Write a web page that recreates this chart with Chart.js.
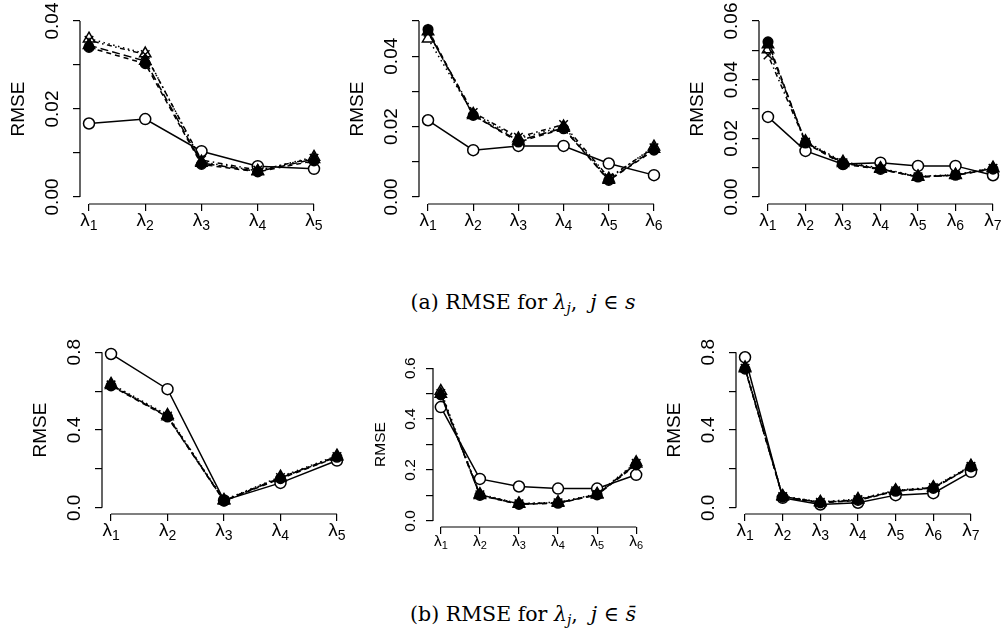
<!DOCTYPE html>
<html>
<head>
<meta charset="utf-8">
<script src="https://cdn.jsdelivr.net/npm/chart.js@4/dist/chart.umd.min.js"></script>
<style>
  body { margin: 0; background: #fff; width: 1006px; height: 635px; position: relative; overflow: hidden; }
  canvas { position: absolute; }
  .cap { position: absolute; left: 0; width: 1046px; text-align: center; font-family: "DejaVu Serif", "Liberation Serif", serif; font-size: 20.5px; color: #000; white-space: nowrap; }
  .cap i { font-style: italic; }
  .cap sub { font-size: 14px; vertical-align: -4px; line-height: 0; }
</style>
</head>
<body>
<canvas id="a1"></canvas>
<canvas id="a2"></canvas>
<canvas id="a3"></canvas>
<canvas id="b1"></canvas>
<canvas id="b2"></canvas>
<canvas id="b3"></canvas>
<div class="cap" style="top:290px">(a) RMSE for <i>λ<sub>j</sub></i>, &nbsp;<i>j</i> ∈ <i>s</i></div>
<div class="cap" style="top:602px">(b) RMSE for <i>λ<sub>j</sub></i>, &nbsp;<i>j</i> ∈ <i>s̄</i></div>
<script>
// subscripts of the lambda categories
const cats5 = ['1', '2', '3', '4', '5'];
const cats6 = ['1', '2', '3', '4', '5', '6'];
const cats7 = ['1', '2', '3', '4', '5', '6', '7'];

// y axis ticks and labelled ticks
const ticksA1 = [0, 0.01, 0.02, 0.03, 0.04];
const ticksA2 = [0, 0.01, 0.02, 0.03, 0.04, 0.05];
const ticksA3 = [0, 0.01, 0.02, 0.03, 0.04, 0.05, 0.06];
const labelsA12 = [0, 0.02, 0.04];
const labelsA3 = [0, 0.02, 0.04, 0.06];
const ticksB13 = [0, 0.2, 0.4, 0.6, 0.8];
const labelsB13 = [0, 0.4, 0.8];
const ticksB2 = [0, 0.1, 0.2, 0.3, 0.4, 0.5, 0.6];
const labelsB2 = [0, 0.2, 0.4, 0.6];

// (a) lambda_j, j in s
const a1Circle  = [0.0167, 0.0177, 0.0104, 0.0070, 0.0064];
const a1Dot     = [0.0340, 0.0303, 0.0074, 0.0057, 0.0082];
const a1Tri     = [0.0360, 0.0326, 0.0080, 0.0059, 0.0091];
const a1Cross   = [0.0356, 0.0324, 0.0084, 0.0061, 0.0088];
const a1FillTri = [0.0345, 0.0309, 0.0077, 0.0058, 0.0086];

const a2Circle  = [0.0218, 0.0133, 0.0145, 0.0145, 0.0095, 0.0062];
const a2Dot     = [0.0476, 0.0232, 0.0156, 0.0194, 0.0047, 0.0133];
const a2Tri     = [0.0450, 0.0236, 0.0166, 0.0200, 0.0052, 0.0143];
const a2Cross   = [0.0468, 0.0240, 0.0170, 0.0206, 0.0055, 0.0140];
const a2FillTri = [0.0470, 0.0232, 0.0160, 0.0196, 0.0048, 0.0136];

const a3Circle  = [0.0273, 0.0157, 0.0112, 0.0117, 0.0106, 0.0106, 0.0074];
const a3Dot     = [0.0529, 0.0184, 0.0112, 0.0094, 0.0068, 0.0074, 0.0095];
const a3Tri     = [0.0503, 0.0190, 0.0120, 0.0098, 0.0070, 0.0076, 0.0100];
const a3Cross   = [0.0484, 0.0187, 0.0117, 0.0096, 0.0069, 0.0075, 0.0098];
const a3FillTri = [0.0520, 0.0186, 0.0115, 0.0095, 0.0068, 0.0074, 0.0097];

// (b) lambda_j, j in s-bar
const b1Circle  = [0.791, 0.610, 0.038, 0.128, 0.243];
const b1Dot     = [0.627, 0.467, 0.035, 0.150, 0.260];
const b1Tri     = [0.637, 0.477, 0.040, 0.160, 0.268];
const b1Cross   = [0.632, 0.472, 0.037, 0.156, 0.264];
const b1FillTri = [0.630, 0.470, 0.036, 0.154, 0.262];

const b2Circle  = [0.447, 0.165, 0.135, 0.127, 0.127, 0.181];
const b2Dot     = [0.495, 0.100, 0.065, 0.069, 0.102, 0.220];
const b2Tri     = [0.510, 0.105, 0.068, 0.073, 0.106, 0.230];
const b2Cross   = [0.500, 0.103, 0.067, 0.071, 0.104, 0.226];
const b2FillTri = [0.498, 0.101, 0.066, 0.070, 0.103, 0.224];

const b3Circle  = [0.774, 0.051, 0.017, 0.026, 0.065, 0.075, 0.185];
const b3Dot     = [0.713, 0.055, 0.025, 0.038, 0.085, 0.100, 0.210];
const b3Tri     = [0.722, 0.060, 0.030, 0.045, 0.090, 0.106, 0.216];
const b3Cross   = [0.718, 0.058, 0.028, 0.042, 0.088, 0.104, 0.213];
const b3FillTri = [0.716, 0.057, 0.027, 0.040, 0.087, 0.102, 0.212];

// marker / line type per series (R pch 1, 16, 2, 4, 17)
const seriesStyles = [
  { pointStyle: 'circle',   pointRadius: 5.5, pointBackgroundColor: '#fff', borderDash: [],            order: 5 },
  { pointStyle: 'circle',   pointRadius: 4.8, pointBackgroundColor: '#000', borderDash: [5, 4],        order: 4 },
  { pointStyle: 'triangle', pointRadius: 6.5, pointBackgroundColor: '#fff', borderDash: [1.5, 3.5],    order: 3 },
  { pointStyle: 'crossRot', pointRadius: 6,   pointBackgroundColor: '#000', borderDash: [1.5, 3.5, 5, 3.5], order: 2 },
  { pointStyle: 'triangle', pointRadius: 6.5, pointBackgroundColor: '#000', borderDash: [8, 4],        order: 1 }
];

const PAD_L = 70, PAD_T = 12, PAD_R = 14, PAD_B = 45;

function makePanel(id, box, cats, series, yTicks, yLabels, digits, fs, gaps) {
  const n = cats.length;
  const ext = 0.04 * (n - 1);
  const yTop = yTicks[yTicks.length - 1];
  const canvas = document.getElementById(id);
  canvas.width = box.w + PAD_L + PAD_R;
  canvas.height = box.h + PAD_T + PAD_B;
  canvas.style.left = (box.x - PAD_L) + 'px';
  canvas.style.top = (box.y - PAD_T) + 'px';

  const sans = '"Liberation Sans", Arial, sans-serif';
  const rAxes = {
    id: 'rAxes',
    afterDraw(chart) {
      const { ctx, chartArea: a, scales: { x, y } } = chart;
      ctx.save();
      ctx.strokeStyle = '#000';
      ctx.lineWidth = 1.2;
      ctx.beginPath();
      ctx.moveTo(a.left, y.getPixelForValue(yTicks[0]));
      ctx.lineTo(a.left, y.getPixelForValue(yTop));
      ctx.moveTo(x.getPixelForValue(1), a.bottom);
      ctx.lineTo(x.getPixelForValue(n), a.bottom);
      ctx.stroke();

      ctx.fillStyle = '#000';
      ctx.textAlign = 'center';
      ctx.textBaseline = 'alphabetic';
      ctx.font = fs + 'px ' + sans;
      yLabels.forEach(v => {
        ctx.save();
        ctx.translate(a.left - gaps.tick, y.getPixelForValue(v));
        ctx.rotate(-Math.PI / 2);
        ctx.fillText(v.toFixed(digits), 0, 0);
        ctx.restore();
      });
      ctx.save();
      ctx.translate(a.left - gaps.title, (a.top + a.bottom) / 2);
      ctx.rotate(-Math.PI / 2);
      ctx.fillText('RMSE', 0, 0);
      ctx.restore();

      const subFs = Math.round(fs * 0.72);
      ctx.textAlign = 'left';
      cats.forEach((c, i) => {
        const px = x.getPixelForValue(i + 1);
        const base = a.bottom + gaps.x;
        ctx.font = fs + 'px ' + sans;
        const w1 = ctx.measureText('λ').width;
        ctx.font = subFs + 'px ' + sans;
        const w2 = ctx.measureText(c).width;
        const x0 = px - (w1 + w2) / 2;
        ctx.font = fs + 'px ' + sans;
        ctx.fillText('λ', x0, base);
        ctx.font = subFs + 'px ' + sans;
        ctx.fillText(c, x0 + w1, base + fs * 0.22);
      });
      ctx.restore();
    }
  };

  new Chart(canvas, {
    type: 'line',
    data: {
      datasets: seriesStyles.map((st, k) => Object.assign({
        data: series[k].map((v, i) => ({ x: i + 1, y: v })),
        borderColor: '#000',
        borderWidth: 1.5,
        pointBorderColor: '#000',
        pointBorderWidth: 1.5,
        fill: false,
        tension: 0,
        clip: false
      }, st))
    },
    options: {
      responsive: false,
      animation: false,
      events: [],
      layout: { padding: { left: 0, top: PAD_T, right: PAD_R, bottom: 0 } },
      plugins: { legend: { display: false }, tooltip: { enabled: false } },
      scales: {
        x: {
          type: 'linear',
          min: 1 - ext,
          max: n + ext,
          afterBuildTicks: s => { s.ticks = cats.map((c, i) => ({ value: i + 1 })); },
          afterFit: s => { s.height = PAD_B; },
          ticks: { display: false },
          grid: { drawOnChartArea: false, drawTicks: true, tickLength: 7, color: '#000', lineWidth: 1.2 },
          border: { display: false }
        },
        y: {
          type: 'linear',
          min: -0.04 * yTop,
          max: 1.04 * yTop,
          afterBuildTicks: s => { s.ticks = yTicks.map(v => ({ value: v })); },
          afterFit: s => { s.width = PAD_L; },
          ticks: { display: false },
          grid: { drawOnChartArea: false, drawTicks: true, tickLength: 7, color: '#000', lineWidth: 1.2 },
          border: { display: false }
        }
      }
    },
    plugins: [rAxes]
  });
}

const bigGaps = { tick: 21.7, title: 56, x: 22 };
const smallGaps = { tick: 18.3, title: 48, x: 19 };

makePanel('a1', { x: 80, y: 14, w: 243, h: 190 }, cats5,
  [a1Circle, a1Dot, a1Tri, a1Cross, a1FillTri], ticksA1, labelsA12, 2, 19, bigGaps);
makePanel('a2', { x: 419, y: 14, w: 244, h: 190 }, cats6,
  [a2Circle, a2Dot, a2Tri, a2Cross, a2FillTri], ticksA2, labelsA12, 2, 19, bigGaps);
makePanel('a3', { x: 759, y: 14, w: 243, h: 190 }, cats7,
  [a3Circle, a3Dot, a3Tri, a3Cross, a3FillTri], ticksA3, labelsA3, 2, 19, bigGaps);
makePanel('b1', { x: 102, y: 346, w: 244, h: 168 }, cats5,
  [b1Circle, b1Dot, b1Tri, b1Cross, b1FillTri], ticksB13, labelsB13, 1, 19, bigGaps);
makePanel('b2', { x: 433, y: 362, w: 211, h: 165 }, cats6,
  [b2Circle, b2Dot, b2Tri, b2Cross, b2FillTri], ticksB2, labelsB2, 1, 15.5, smallGaps);
makePanel('b3', { x: 736, y: 346, w: 244, h: 168 }, cats7,
  [b3Circle, b3Dot, b3Tri, b3Cross, b3FillTri], ticksB13, labelsB13, 1, 19, bigGaps);
</script>
</body>
</html>
